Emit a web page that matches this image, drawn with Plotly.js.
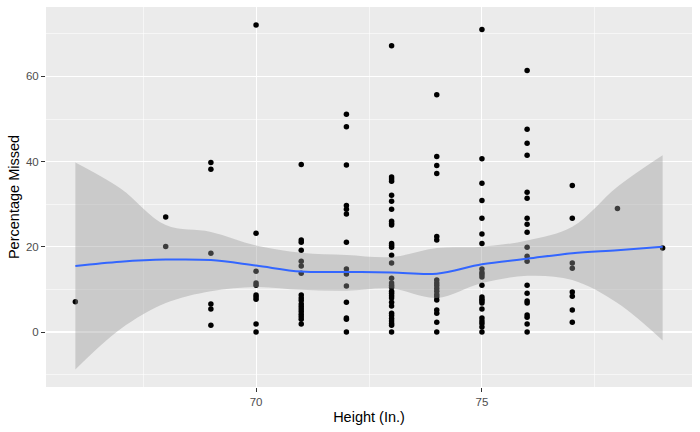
<!DOCTYPE html>
<html>
<head>
<meta charset="utf-8">
<script src="https://cdn.plot.ly/plotly-3.0.1.min.js"></script>
<style>
  html, body { margin: 0; padding: 0; background: #fff; }
  #chart { width: 700px; height: 432px; }
</style>
</head>
<body>
<div id="chart"></div>
<script>
// heights (in.) and the percentages missed at each height
const heights = [66, 68, 69, 70, 71, 72, 73, 74, 75, 76, 77, 78, 79]
const missedByHeight = [
  [7.1],
  [27.0, 20.1],
  [39.8, 38.2, 18.5, 6.6, 5.4, 1.6],
  [72.1, 23.2, 14.3, 11.5, 11.0, 8.7, 8.2, 7.7, 1.9, 0],
  [39.3, 21.6, 21.1, 19.2, 16.6, 15.5, 13.8, 8.7, 8.0, 7.4, 6.6, 6.0, 5.4, 4.8, 4.2, 3.6, 3.0, 1.9],
  [51.1, 48.2, 39.2, 29.7, 28.8, 27.7, 21.1, 14.8, 13.6, 10.8, 7.0, 3.3, 3.0, 0],
  [67.2, 36.4, 35.9, 35.4, 32.1, 30.7, 28.8, 26.0, 25.5, 25.1, 20.8, 20.4, 19.9, 18.0, 16.2, 12.6,
   11.5, 11.0, 10.5, 9.6, 9.1, 8.5, 8.0, 7.0, 6.1, 4.4, 3.9, 3.2, 2.6, 2.0, 1.6, 0],
  [55.7, 41.2, 39.1, 37.2, 22.4, 21.6, 12.2, 11.5, 10.9, 10.2, 9.6, 8.8, 8.3, 7.5, 5.2, 4.4, 2.3, 0],
  [71.0, 40.7, 34.9, 30.9, 26.7, 23.0, 20.8, 14.8, 14.0, 13.5, 12.9, 11.0, 8.2, 7.7, 7.3, 6.8, 5.4,
   3.3, 2.6, 2.0, 1.2, 0],
  [61.4, 47.6, 44.3, 41.5, 32.8, 31.4, 26.7, 25.3, 23.4, 19.9, 17.8, 16.6, 11.0, 9.1, 7.3, 6.8, 4.0, 3.5, 1.9, 0],
  [34.4, 26.7, 16.2, 15.0, 9.4, 8.4, 5.2, 2.3],
  [29.0],
  [19.7]
]

// loess smooth and its confidence band
const smoothX = [66, 67, 68, 69, 70, 71, 72, 73, 74, 75, 76, 77, 78, 79]
const smoothFit = [15.5, 16.5, 17.0, 16.9, 15.6, 14.2, 14.1, 14.0, 13.7, 15.9, 17.2, 18.5, 19.2, 20.0]
const smoothLower = [-8.8, 0.7, 6.8, 9.6, 10.6, 9.9, 9.7, 10.2, 8.0, 11.5, 13.2, 12.2, 6.8, -2.0]
const smoothUpper = [39.8, 33.7, 25.1, 23.5, 20.3, 18.6, 18.1, 17.6, 19.7, 20.0, 21.5, 24.7, 34.1, 41.5]

const xTicks = [70, 75]
const yTicks = [0, 20, 40, 60]

let px = [], py = []
heights.forEach((h, i) => {
  missedByHeight[i].forEach(v => { px.push(h); py.push(v) })
})

const data = [
  {
    x: px, y: py, type: 'scatter', mode: 'markers',
    marker: { color: '#000000', size: 5.5 }
  },
  {
    x: smoothX, y: smoothLower, type: 'scatter', mode: 'lines',
    line: { width: 0, shape: 'spline' }
  },
  {
    x: smoothX, y: smoothUpper, type: 'scatter', mode: 'lines',
    line: { width: 0, shape: 'spline' },
    fill: 'tonexty', fillcolor: 'rgba(153,153,153,0.4)'
  },
  {
    x: smoothX, y: smoothFit, type: 'scatter', mode: 'lines',
    line: { color: '#3366FF', width: 2, shape: 'spline' }
  }
]

const axisCommon = {
  showline: false, zeroline: false,
  gridcolor: '#FFFFFF', gridwidth: 1.1,
  ticks: 'outside', ticklen: 4, tickwidth: 1, tickcolor: '#333333',
  tickfont: { family: 'Liberation Sans, Arial, sans-serif', size: 11.5, color: '#4D4D4D' }
}

const layout = {
  width: 700, height: 432,
  margin: { l: 46, r: 8, t: 7, b: 45 },
  paper_bgcolor: '#FFFFFF',
  plot_bgcolor: '#EBEBEB',
  showlegend: false,
  hovermode: false,
  xaxis: Object.assign({}, axisCommon, {
    range: [65.35, 79.65],
    tickmode: 'array', tickvals: xTicks, ticktext: xTicks.map(String),
    minor: { tick0: 65, dtick: 2.5, showgrid: true, gridcolor: '#FFFFFF', gridwidth: 0.55, ticks: '' },
    title: {
      text: 'Height (In.)', standoff: 5,
      font: { family: 'Liberation Sans, Arial, sans-serif', size: 14.5, color: '#000000' }
    }
  }),
  yaxis: Object.assign({}, axisCommon, {
    range: [-12.9, 76.3],
    tickmode: 'array', tickvals: yTicks, ticktext: yTicks.map(String),
    minor: { tick0: 0, dtick: 10, showgrid: true, gridcolor: '#FFFFFF', gridwidth: 0.55, ticks: '' },
    title: {
      text: 'Percentage Missed', standoff: 2,
      font: { family: 'Liberation Sans, Arial, sans-serif', size: 14.5, color: '#000000' }
    }
  })
}

Plotly.newPlot('chart', data, layout, { displayModeBar: false, staticPlot: true })
</script>
</body>
</html>
